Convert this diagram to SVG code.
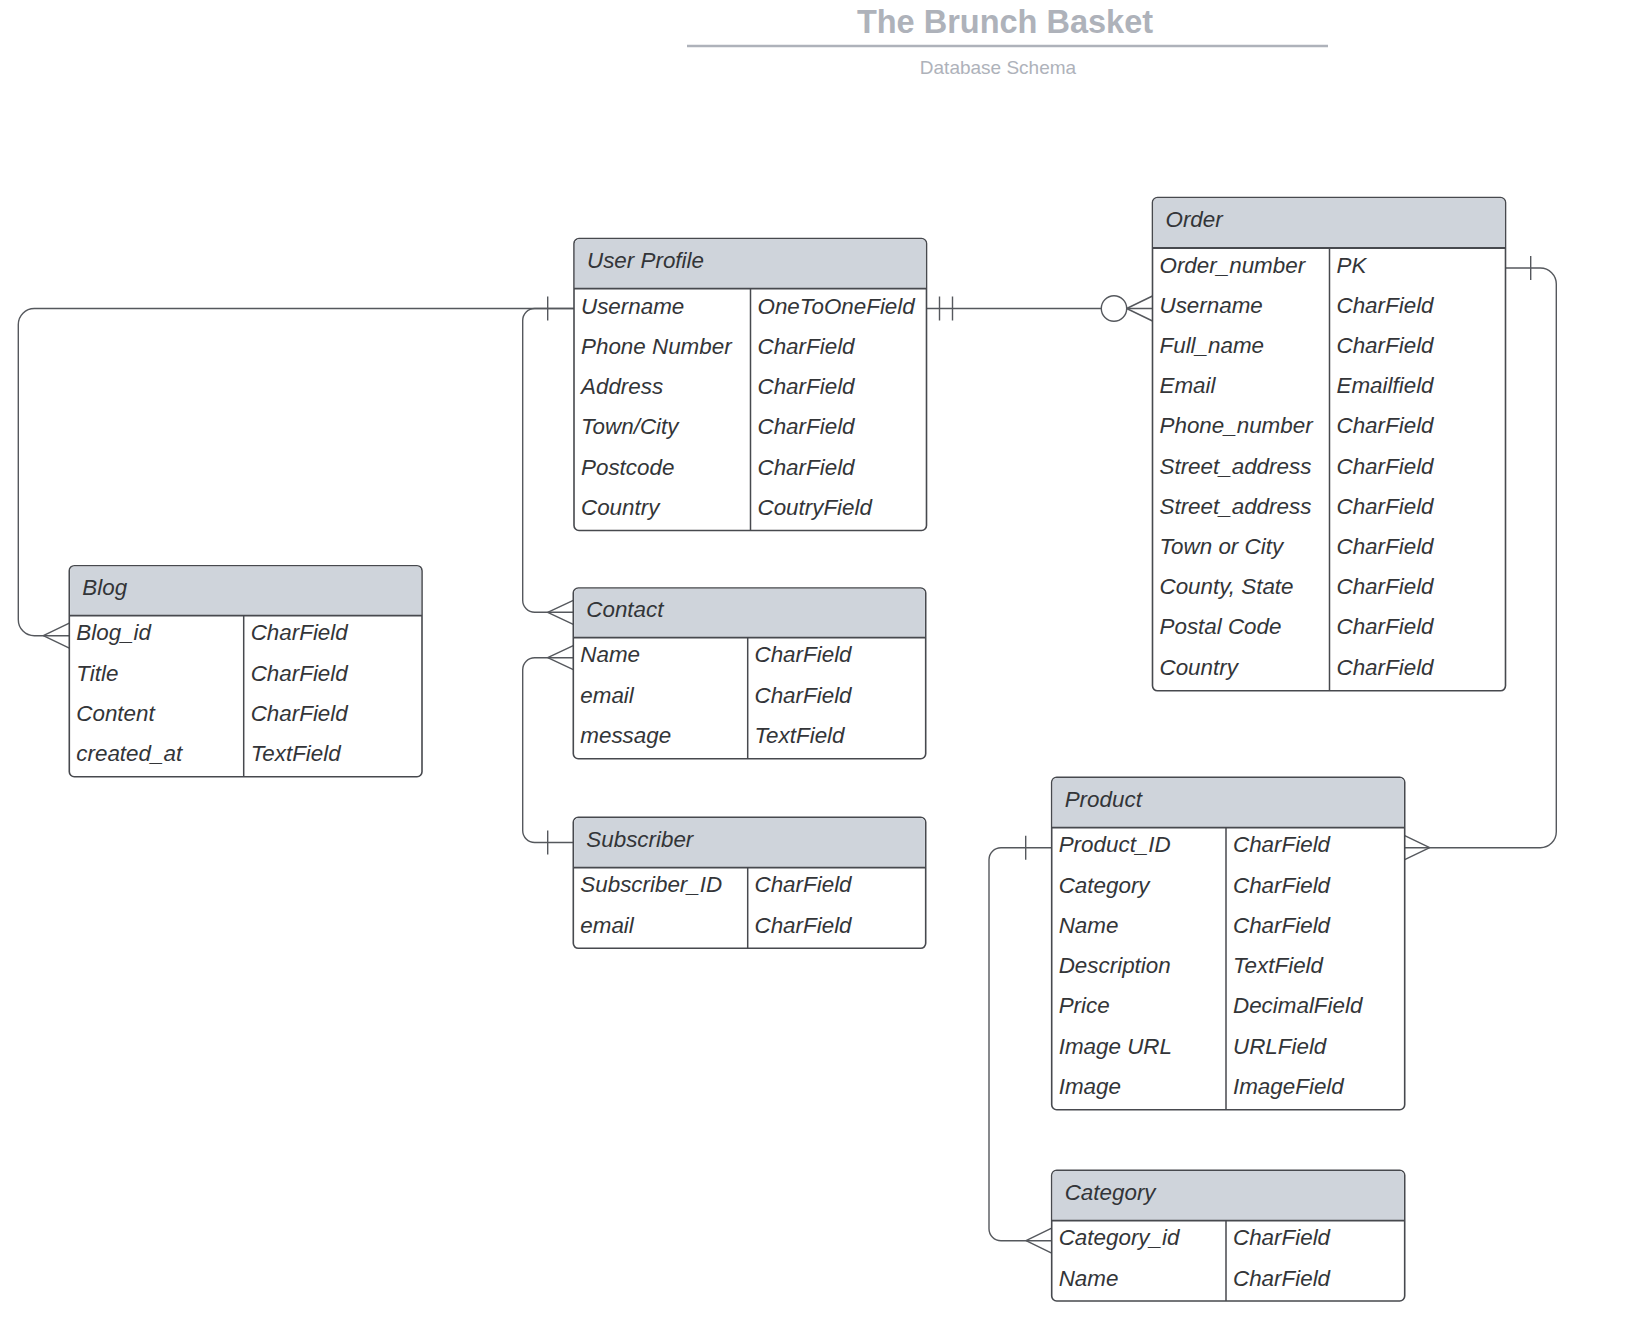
<svg xmlns="http://www.w3.org/2000/svg" width="1641" height="1319" viewBox="0 0 1641 1319">
<style>
.bg{fill:#ffffff}
.box{fill:#ffffff;stroke:#47494e;stroke-width:1.6}
.hdr{fill:#cfd4db}
.sep{stroke:#47494e;stroke-width:1.8}
.div{stroke:#47494e;stroke-width:1.5}
.t{font-family:"Liberation Sans",Arial,sans-serif;font-style:italic;font-size:22.4px;fill:#333538}
.ln{fill:none;stroke:#55585d;stroke-width:1.4}
.ttl{font-family:"Liberation Sans",Arial,sans-serif;font-weight:bold;font-size:32.5px;fill:#aeb2ba}
.sub{font-family:"Liberation Sans",Arial,sans-serif;font-size:19px;fill:#aeb2ba}
</style>
<rect class="bg" x="0" y="0" width="1641" height="1319"/>

<g id="title">
<text class="ttl" x="1005" y="33" text-anchor="middle">The Brunch Basket</text>
<line x1="687" y1="46" x2="1328" y2="46" stroke="#aeb2ba" stroke-width="2.5"/>
<text class="sub" x="998" y="74" text-anchor="middle">Database Schema</text>
</g>

<g id="connectors">
<!-- User Profile -> Blog -->
<path class="ln" d="M574 308.5 H34.3 A16 16 0 0 0 18.3 324.5 V619.7 A16 16 0 0 0 34.3 635.7 H69.3"/>
<path class="ln" d="M43.3 635.7 L69.3 623.2 M43.3 635.7 L69.3 648.2"/>
<!-- User Profile -> Contact -->
<path class="ln" d="M574 308.5 H534.7 A12 12 0 0 0 522.7 320.5 V600.3 A12 12 0 0 0 534.7 612.3 H573.3"/>
<path class="ln" d="M547.7 612.3 L573.3 600.3 M547.7 612.3 L573.3 624.3"/>
<line class="ln" x1="547.7" y1="296.5" x2="547.7" y2="320.5"/>
<!-- Contact -> Subscriber -->
<path class="ln" d="M573.3 657.7 H534.7 A12 12 0 0 0 522.7 669.7 V830.5 A12 12 0 0 0 534.7 842.5 H573.3"/>
<path class="ln" d="M547.7 657.7 L573.3 645.7 M547.7 657.7 L573.3 669.7"/>
<line class="ln" x1="547.7" y1="830.5" x2="547.7" y2="854.5"/>
<!-- User Profile -> Order -->
<path class="ln" d="M926.5 308.5 H1101.3 M1126.7 308.5 H1152.5"/>
<line class="ln" x1="939.5" y1="296.5" x2="939.5" y2="320.5"/>
<line class="ln" x1="952.5" y1="296.5" x2="952.5" y2="320.5"/>
<circle cx="1114" cy="308.5" r="12.7" fill="#ffffff" stroke="#55585d" stroke-width="1.4"/>
<path class="ln" d="M1126.7 308.5 L1152.5 296 M1126.7 308.5 L1152.5 321"/>
<!-- Order -> Product -->
<path class="ln" d="M1505.5 268 H1540.3 A16 16 0 0 1 1556.3 284 V831.7 A16 16 0 0 1 1540.3 847.7 H1404.7"/>
<line class="ln" x1="1530.7" y1="256" x2="1530.7" y2="280"/>
<path class="ln" d="M1429.7 847.7 L1404.7 835.7 M1429.7 847.7 L1404.7 859.7"/>
<!-- Product -> Category -->
<path class="ln" d="M1051.7 847.7 H1001 A12 12 0 0 0 989 859.7 V1228.7 A12 12 0 0 0 1001 1240.7 H1051.7"/>
<line class="ln" x1="1025.7" y1="835.7" x2="1025.7" y2="859.7"/>
<path class="ln" d="M1026 1240.7 L1051.7 1228.2 M1026 1240.7 L1051.7 1253.2"/>
</g>

<!-- User Profile -->
<g id="user-profile">
<rect class="box" x="574" y="238.5" width="352.5" height="292" rx="5"/>
<path class="hdr" d="M579 239.3 H921.5 A4.2 4.2 0 0 1 925.7 243.5 V288.7 H574.8 V243.5 A4.2 4.2 0 0 1 579 239.3 Z"/>
<line class="sep" x1="574" y1="288.7" x2="926.5" y2="288.7"/>
<line class="div" x1="750.5" y1="288.7" x2="750.5" y2="530.5"/>
<text class="t" x="587" y="268">User Profile</text>
<text class="t" x="581" y="313.5">Username</text><text class="t" x="757.5" y="313.5">OneToOneField</text>
<text class="t" x="581" y="353.8">Phone Number</text><text class="t" x="757.5" y="353.8">CharField</text>
<text class="t" x="581" y="394.1">Address</text><text class="t" x="757.5" y="394.1">CharField</text>
<text class="t" x="581" y="434.4">Town/City</text><text class="t" x="757.5" y="434.4">CharField</text>
<text class="t" x="581" y="474.7">Postcode</text><text class="t" x="757.5" y="474.7">CharField</text>
<text class="t" x="581" y="515">Country</text><text class="t" x="757.5" y="515">CoutryField</text>
</g>

<!-- Order -->
<g id="order">
<rect class="box" x="1152.5" y="197.5" width="353" height="493.3" rx="5"/>
<path class="hdr" d="M1157.5 198.3 H1500.5 A4.2 4.2 0 0 1 1504.7 202.5 V248 H1153.3 V202.5 A4.2 4.2 0 0 1 1157.5 198.3 Z"/>
<line class="sep" x1="1152.5" y1="248" x2="1505.5" y2="248"/>
<line class="div" x1="1329.5" y1="248" x2="1329.5" y2="690.8"/>
<text class="t" x="1165.5" y="227">Order</text>
<text class="t" x="1159.5" y="272.5">Order_number</text><text class="t" x="1336.5" y="272.5">PK</text>
<text class="t" x="1159.5" y="312.7">Username</text><text class="t" x="1336.5" y="312.7">CharField</text>
<text class="t" x="1159.5" y="352.9">Full_name</text><text class="t" x="1336.5" y="352.9">CharField</text>
<text class="t" x="1159.5" y="393.1">Email</text><text class="t" x="1336.5" y="393.1">Emailfield</text>
<text class="t" x="1159.5" y="433.3">Phone_number</text><text class="t" x="1336.5" y="433.3">CharField</text>
<text class="t" x="1159.5" y="473.5">Street_address</text><text class="t" x="1336.5" y="473.5">CharField</text>
<text class="t" x="1159.5" y="513.7">Street_address</text><text class="t" x="1336.5" y="513.7">CharField</text>
<text class="t" x="1159.5" y="553.9">Town or City</text><text class="t" x="1336.5" y="553.9">CharField</text>
<text class="t" x="1159.5" y="594.1">County, State</text><text class="t" x="1336.5" y="594.1">CharField</text>
<text class="t" x="1159.5" y="634.3">Postal Code</text><text class="t" x="1336.5" y="634.3">CharField</text>
<text class="t" x="1159.5" y="674.5">Country</text><text class="t" x="1336.5" y="674.5">CharField</text>
</g>

<!-- Blog -->
<g id="blog">
<rect class="box" x="69.3" y="565.7" width="352.7" height="211" rx="5"/>
<path class="hdr" d="M74.3 566.5 H417 A4.2 4.2 0 0 1 421.2 570.7 V615.7 H70.1 V570.7 A4.2 4.2 0 0 1 74.3 566.5 Z"/>
<line class="sep" x1="69.3" y1="615.7" x2="422" y2="615.7"/>
<line class="div" x1="243.7" y1="615.7" x2="243.7" y2="776.7"/>
<text class="t" x="82.3" y="595">Blog</text>
<text class="t" x="76.3" y="640.2">Blog_id</text><text class="t" x="250.7" y="640.2">CharField</text>
<text class="t" x="76.3" y="680.5">Title</text><text class="t" x="250.7" y="680.5">CharField</text>
<text class="t" x="76.3" y="720.8">Content</text><text class="t" x="250.7" y="720.8">CharField</text>
<text class="t" x="76.3" y="761.1">created_at</text><text class="t" x="250.7" y="761.1">TextField</text>
</g>

<!-- Contact -->
<g id="contact">
<rect class="box" x="573.3" y="588" width="352.4" height="170.7" rx="5"/>
<path class="hdr" d="M578.3 588.8 H920.7 A4.2 4.2 0 0 1 924.9 593 V637.7 H574.1 V593 A4.2 4.2 0 0 1 578.3 588.8 Z"/>
<line class="sep" x1="573.3" y1="637.7" x2="925.7" y2="637.7"/>
<line class="div" x1="747.7" y1="637.7" x2="747.7" y2="758.7"/>
<text class="t" x="586.3" y="617.3">Contact</text>
<text class="t" x="580.3" y="662.2">Name</text><text class="t" x="754.5" y="662.2">CharField</text>
<text class="t" x="580.3" y="702.5">email</text><text class="t" x="754.5" y="702.5">CharField</text>
<text class="t" x="580.3" y="742.8">message</text><text class="t" x="754.5" y="742.8">TextField</text>
</g>

<!-- Subscriber -->
<g id="subscriber">
<rect class="box" x="573.3" y="817.3" width="352.4" height="131" rx="5"/>
<path class="hdr" d="M578.3 818.1 H920.7 A4.2 4.2 0 0 1 924.9 822.3 V867.7 H574.1 V822.3 A4.2 4.2 0 0 1 578.3 818.1 Z"/>
<line class="sep" x1="573.3" y1="867.7" x2="925.7" y2="867.7"/>
<line class="div" x1="747.7" y1="867.7" x2="747.7" y2="948.3"/>
<text class="t" x="586.3" y="846.6">Subscriber</text>
<text class="t" x="580.3" y="892.2">Subscriber_ID</text><text class="t" x="754.5" y="892.2">CharField</text>
<text class="t" x="580.3" y="932.5">email</text><text class="t" x="754.5" y="932.5">CharField</text>
</g>

<!-- Product -->
<g id="product">
<rect class="box" x="1051.7" y="777.3" width="353" height="332.4" rx="5"/>
<path class="hdr" d="M1056.7 778.1 H1399.7 A4.2 4.2 0 0 1 1403.9 782.3 V827.7 H1052.5 V782.3 A4.2 4.2 0 0 1 1056.7 778.1 Z"/>
<line class="sep" x1="1051.7" y1="827.7" x2="1404.7" y2="827.7"/>
<line class="div" x1="1226" y1="827.7" x2="1226" y2="1109.7"/>
<text class="t" x="1064.7" y="806.6">Product</text>
<text class="t" x="1058.7" y="852.2">Product_ID</text><text class="t" x="1233" y="852.2">CharField</text>
<text class="t" x="1058.7" y="892.5">Category</text><text class="t" x="1233" y="892.5">CharField</text>
<text class="t" x="1058.7" y="932.8">Name</text><text class="t" x="1233" y="932.8">CharField</text>
<text class="t" x="1058.7" y="973.1">Description</text><text class="t" x="1233" y="973.1">TextField</text>
<text class="t" x="1058.7" y="1013.4">Price</text><text class="t" x="1233" y="1013.4">DecimalField</text>
<text class="t" x="1058.7" y="1053.7">Image URL</text><text class="t" x="1233" y="1053.7">URLField</text>
<text class="t" x="1058.7" y="1094">Image</text><text class="t" x="1233" y="1094">ImageField</text>
</g>

<!-- Category -->
<g id="category">
<rect class="box" x="1051.7" y="1170.3" width="353" height="130.7" rx="5"/>
<path class="hdr" d="M1056.7 1171.1 H1399.7 A4.2 4.2 0 0 1 1403.9 1175.3 V1220.7 H1052.5 V1175.3 A4.2 4.2 0 0 1 1056.7 1171.1 Z"/>
<line class="sep" x1="1051.7" y1="1220.7" x2="1404.7" y2="1220.7"/>
<line class="div" x1="1226" y1="1220.7" x2="1226" y2="1301"/>
<text class="t" x="1064.7" y="1199.6">Category</text>
<text class="t" x="1058.7" y="1245.2">Category_id</text><text class="t" x="1233" y="1245.2">CharField</text>
<text class="t" x="1058.7" y="1285.5">Name</text><text class="t" x="1233" y="1285.5">CharField</text>
</g>
</svg>
